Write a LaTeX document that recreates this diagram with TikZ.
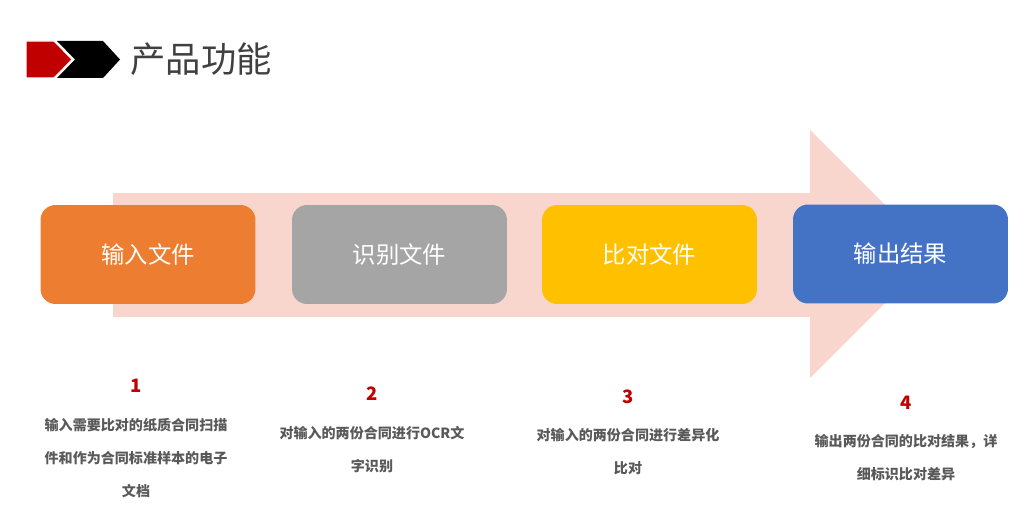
\documentclass[tikz,border=0pt]{standalone}
\usepackage{fontspec}
\setmainfont{Noto Sans CJK SC}
\newfontfamily\cjk{Noto Sans CJK SC}
\definecolor{arrowpink}{HTML}{F8D6CD}
\definecolor{stepone}{HTML}{ED7D31}
\definecolor{steptwo}{HTML}{A5A5A5}
\definecolor{stepthree}{HTML}{FFC000}
\definecolor{stepfour}{HTML}{4472C4}
\definecolor{numred}{HTML}{C00000}
\definecolor{txtgray}{HTML}{595959}
\definecolor{titlegray}{HTML}{404040}
\tikzset{
  stepbox/.style={rounded corners=0.3cm, minimum width=4.3cm, minimum height=1.98cm,
    text=white, font=\cjk\fontsize{13.3}{16}\selectfont},
  stepnum/.style={text=numred, font=\cjk\bfseries\fontsize{10.5}{12}\selectfont},
  stepdesc/.style={text=txtgray, align=center, font=\cjk\bfseries\fontsize{8}{18.7}\selectfont}
}
\begin{document}
\begin{tikzpicture}[x=0.02cm, y=-0.02cm]
\useasboundingbox (0,0) rectangle (1033,510);
% header mark and title
\fill[black](57,41)--(103,41)--(120,59.5)--(103,78)--(57,78)--(75,59.5)--cycle;
\fill[numred, draw=white, line width=0.6pt](26,41)--(54,41)--(72,59.5)--(54,78)--(26,78)--cycle;
\node[text=titlegray, font=\cjk\fontsize{20.1}{24}\selectfont] (title) at (201,59) {产品功能};

% big arrow
\fill[arrowpink](113,193)--(810,193)--(810,130)--(934,254)--(810,378)--(810,317)--(113,317)--cycle;

\node[stepbox, fill=stepone] (s1) at (148,254.5) {输入文件};
\node[stepbox, fill=steptwo] (s2) at (399.5,254.5) {识别文件};
\node[stepbox, fill=stepthree] (s3) at (649.5,254.5) {比对文件};
\node[stepbox, fill=stepfour] (s4) at (900.5,254) {输出结果};

\node[stepnum] (n1) at (136,386) {1};
\node[stepnum] (n2) at (372,394) {2};
\node[stepnum] (n3) at (628,397) {3};
\node[stepnum] (n4) at (906,403) {4};

\node[stepdesc] (d1) at (136,458) {输入需要比对的纸质合同扫描\\件和作为合同标准样本的电子\\文档};
\node[stepdesc] (d2) at (372,450) {对输入的两份合同进行OCR文\\字识别};
\node[stepdesc] (d3) at (628,452) {对输入的两份合同进行差异化\\比对};
\node[stepdesc] (d4) at (906,457.5) {输出两份合同的比对结果，详\\细标识比对差异};

\end{tikzpicture}
\end{document}
